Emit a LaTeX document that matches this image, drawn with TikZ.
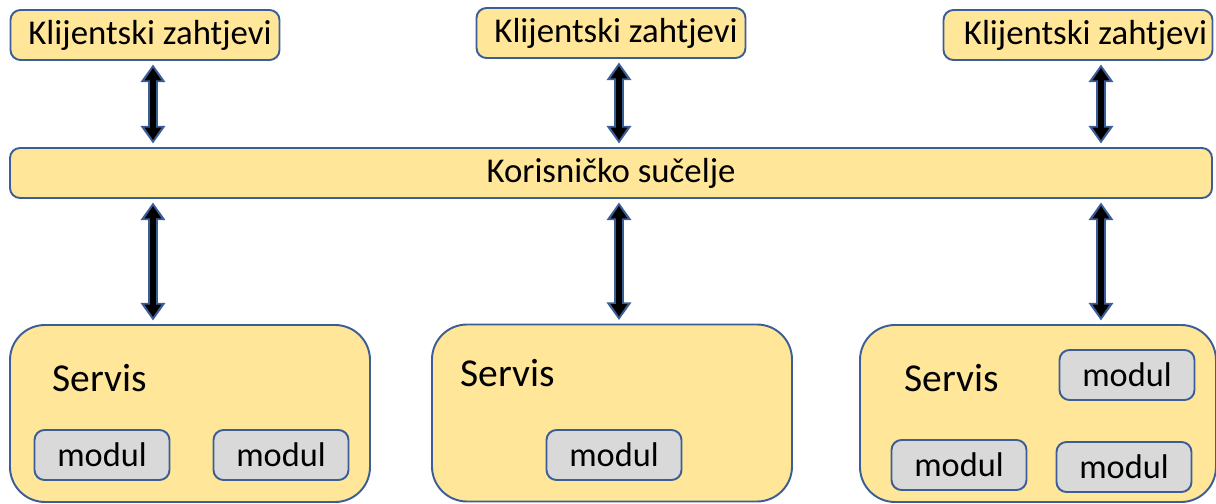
\documentclass[tikz,border=0pt]{standalone}
\usepackage{fontspec}
\setmainfont{Carlito}
\usepackage{tikz}
\usetikzlibrary{arrows.meta}
\definecolor{zlatna}{HTML}{FFE699}
\definecolor{rubplava}{HTML}{3B5E98}
\definecolor{sivamod}{HTML}{D9D9D9}

\tikzset{
  zahtjev/.style={draw=rubplava, line width=1.1pt, fill=zlatna, rounded corners=0.2cm, minimum width=5.38cm, minimum height=1cm, inner sep=0pt, font=\fontsize{19.8}{23}\selectfont},
  servisbox/.style={draw=rubplava, line width=1.1pt, fill=zlatna, rounded corners=0.7cm, minimum width=7.2cm, minimum height=3.54cm},
  modbox/.style={draw=rubplava, line width=1.1pt, fill=sivamod, rounded corners=0.2cm, minimum width=2.7cm, minimum height=1cm, inner sep=0pt, font=\fontsize{19.5}{23}\selectfont},
  servlabel/.style={anchor=west, inner sep=0pt, font=\fontsize{22.5}{26}\selectfont},
  dvosmjer/.style={{Triangle[width=9pt,length=7pt]}-{Triangle[width=9pt,length=7pt]}, line width=3pt, black, shorten >=4pt, shorten <=4pt,
    preaction={draw=rubplava, line width=5.4pt, {Triangle[width=13.5pt,length=10pt]}-{Triangle[width=13.5pt,length=10pt]}, shorten >=2pt, shorten <=2pt}}
}

\begin{document}
\begin{tikzpicture}
			\useasboundingbox (0,0) rectangle (24.32,-10.08);

			% Klijentski zahtjevi
			\node[zahtjev] (k1) at (2.9,-0.7) {\hspace{0.2cm}Klijentski zahtjevi};
			\node[zahtjev] (k2) at (12.22,-0.66) {\hspace{0.2cm}Klijentski zahtjevi};
			\node[zahtjev] (k3) at (21.56,-0.7) {\hspace{0.3cm}Klijentski zahtjevi};

			% Korisnicko sucelje
			\node[zahtjev, minimum width=24.04cm] (sucelje) at (12.22,-3.46) {Korisničko sučelje};

			% Servisi
			\node[servisbox] (s1) at (3.8,-8.27) {};
			\node[servisbox] (s2) at (12.24,-8.26) {};
			\node[servisbox, minimum width=7.12cm] (s3) at (20.76,-8.27) {};

			\node[servlabel] (t1) at (1.04,-7.56) {Servis};
			\node[servlabel] (t2) at (9.2,-7.46) {Servis};
			\node[servlabel] (t3) at (18.08,-7.56) {Servis};

			% Moduli
			\node[modbox] (m1a) at (2.04,-9.1) {modul};
			\node[modbox] (m1b) at (5.62,-9.1) {modul};
			\node[modbox] (m2) at (12.28,-9.1) {modul};
			\node[modbox] (m3a) at (22.54,-7.5) {modul};
			\node[modbox] (m3b) at (19.18,-9.3) {modul};
			\node[modbox] (m3c) at (22.48,-9.34) {modul};

			% Strelice
			\draw[dvosmjer] ([xshift=0.16cm]k1.south) -- ([xshift=0.16cm]k1.south |- sucelje.north);
			\draw[dvosmjer] ([xshift=0.16cm]k2.south) -- ([xshift=0.16cm]k2.south |- sucelje.north);
			\draw[dvosmjer] ([xshift=0.46cm]k3.south) -- ([xshift=0.46cm]k3.south |- sucelje.north);

			\draw[dvosmjer] ([xshift=0.16cm]k1.south |- sucelje.south) -- ([xshift=0.16cm]k1.south |- s1.north);
			\draw[dvosmjer] ([xshift=0.16cm]k2.south |- sucelje.south) -- ([xshift=0.16cm]k2.south |- s2.north);
			\draw[dvosmjer] ([xshift=0.46cm]k3.south |- sucelje.south) -- ([xshift=0.46cm]k3.south |- s3.north);
		\end{tikzpicture}
\end{document}
